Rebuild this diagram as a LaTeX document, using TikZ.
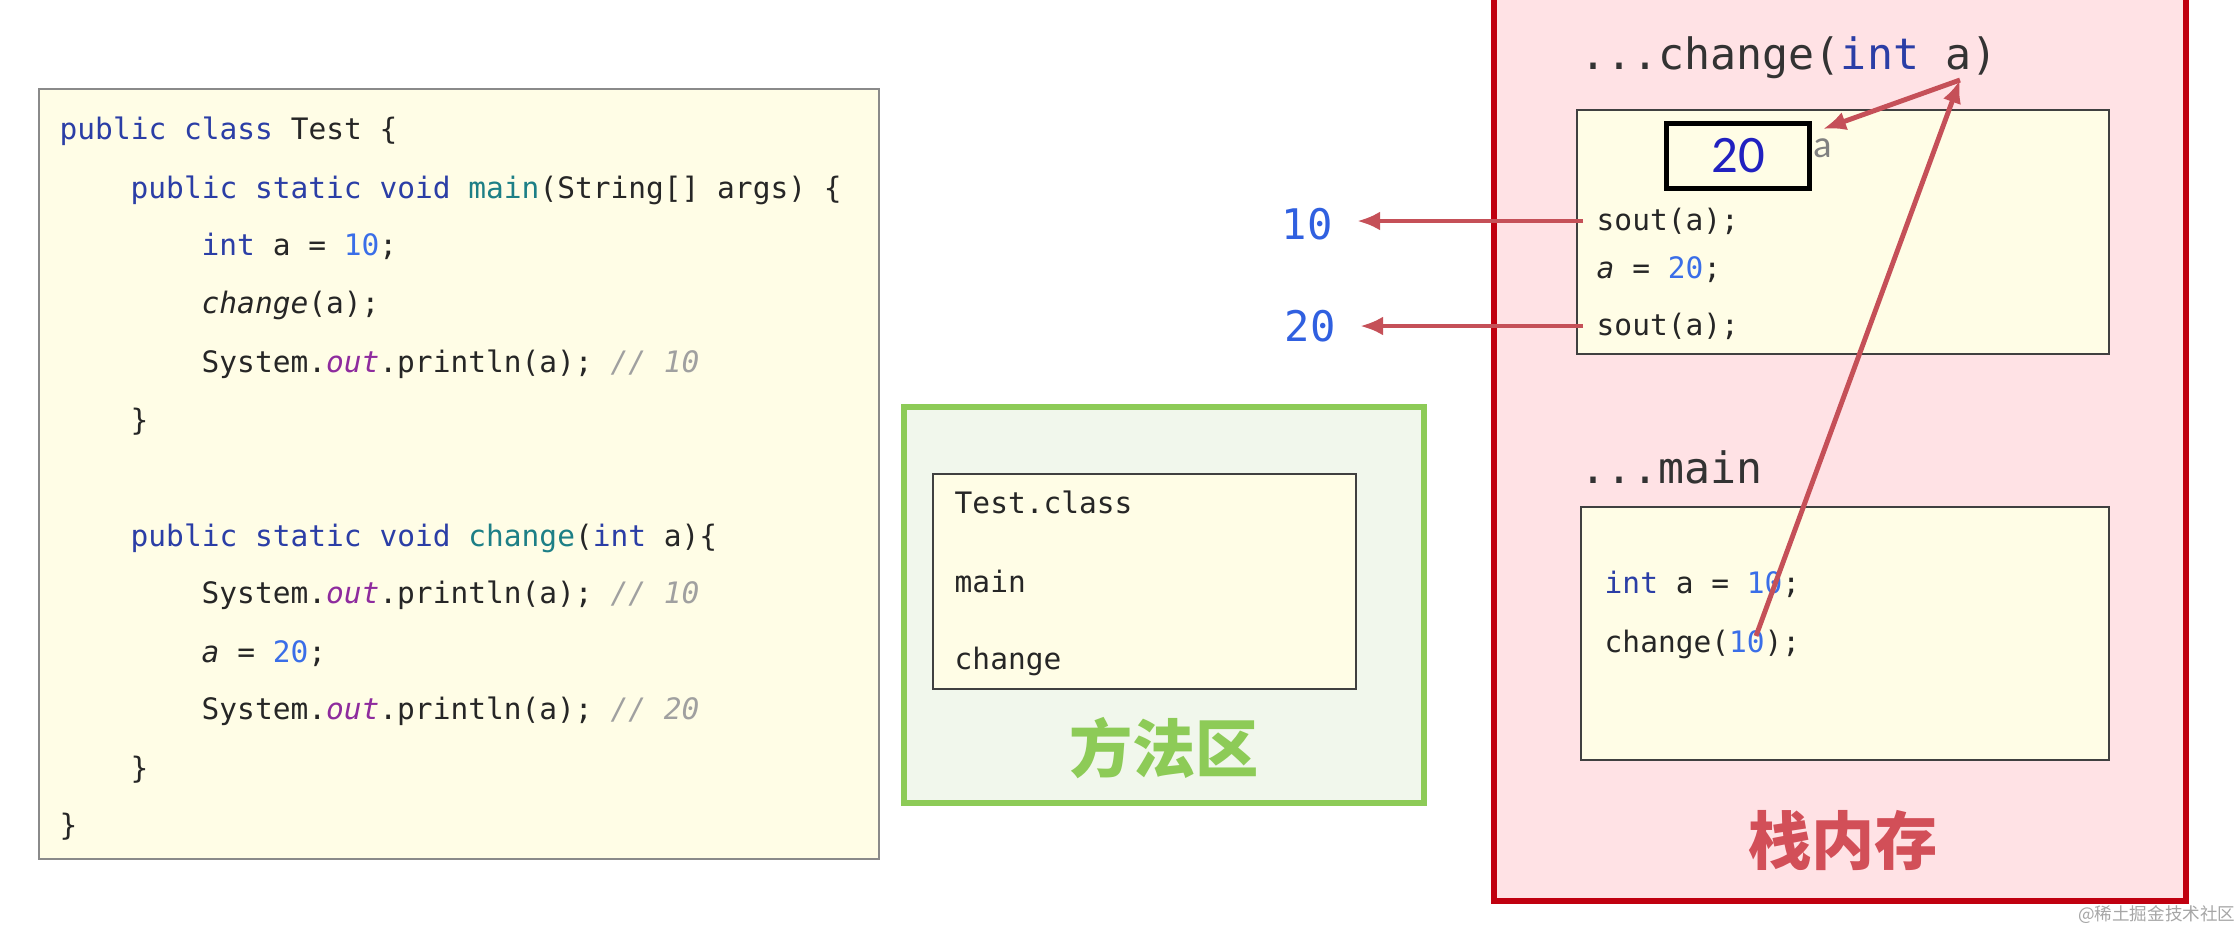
\documentclass[tikz,border=0pt]{standalone}
\usepackage{fontspec}
\usepackage{tikz}
\usetikzlibrary{arrows.meta}
\setmainfont{DejaVu Sans}
\setmonofont{DejaVu Sans Mono}
\newfontfamily\cjk{Noto Sans CJK SC}
\newfontfamily\numfont{Carlito}
\definecolor{codebg}{HTML}{FFFDE6}
\definecolor{codeframe}{HTML}{8A8A8A}
\definecolor{kwblue}{HTML}{2B3EA6}
\definecolor{fnteal}{HTML}{1D7F86}
\definecolor{numblue}{HTML}{3A6EE8}
\definecolor{fieldpurple}{HTML}{8E2B9E}
\definecolor{cmtgray}{HTML}{A0A0A0}
\definecolor{methgreen}{HTML}{8DCB57}
\definecolor{methbg}{HTML}{F1F7EC}
\definecolor{stackred}{HTML}{C00010}
\definecolor{stackbg}{HTML}{FFE2E5}
\definecolor{labelred}{HTML}{D24F58}
\definecolor{arrowred}{HTML}{C55058}
\definecolor{valblue}{HTML}{2121C0}
\definecolor{outblue}{HTML}{3060E0}
\newcommand{\jkw}[1]{\textcolor{kwblue}{#1}}
\newcommand{\jfn}[1]{\textcolor{fnteal}{#1}}
\newcommand{\jnum}[1]{\textcolor{numblue}{#1}}
\newcommand{\jfield}[1]{\textcolor{fieldpurple}{\textit{#1}}}
\newcommand{\jcmt}[1]{\textcolor{cmtgray}{\textit{#1}}}

\begin{document}
\begin{tikzpicture}[x=0.1mm, y=-0.1mm,
            code/.style={anchor=west, inner sep=0pt, text height=0.75em, text depth=0.2em,
              text=black!85, font=\ttfamily\fontsize{8.4}{10}\selectfont},
            header/.style={anchor=west, inner sep=0pt, text height=0.75em, text depth=0.2em,
              text=black!80, font=\ttfamily\fontsize{12.3}{14}\selectfont},
            outnum/.style={inner sep=0pt, text=outblue, font=\ttfamily\fontsize{12}{14}\selectfont},
            areabox/.style={line width=1.7pt},
            frame/.style={draw=black!75, line width=0.6pt, fill=codebg},
            valbox/.style={draw=black, line width=1.2pt, fill=codebg, minimum width=14.3mm,
              minimum height=6.5mm, inner sep=0pt, text=valblue, font=\numfont\fontsize{15}{16}\selectfont},
            cjklabel/.style={inner sep=0pt, font=\cjk\bfseries\fontsize{18}{20}\selectfont},
            redarrow/.style={draw=arrowred, line width=1.4pt, -{Latex[length=2.3mm,width=1.9mm]}}]
            \useasboundingbox (0,0) rectangle (2240,934);
            \clip (0,0) rectangle (2240,934);
            \fill[white] (0,0) rectangle (2240,934);
            \draw[fill=codebg, draw=codeframe, line width=0.6pt] (39,89) rectangle (879,859);
            \node[code] (l1) at (59,130) {\jkw{public class} Test \{};
            \node[code] (l2) at (130,189) {\jkw{public static void} \jfn{main}(String[] args) \{};
            \node[code] (l3) at (201,246) {\jkw{int} a = \jnum{10};};
            \node[code] (l4) at (201,304) {\textit{change}(a);};
            \node[code] (l5) at (201,363) {System.\jfield{out}.println(a); \jcmt{// 10}};
            \node[code] (l6) at (130,421) {\}};
            \node[code] (l7) at (130,537) {\jkw{public static void} \jfn{change}(\jkw{int} a)\{};
            \node[code] (l8) at (201,594) {System.\jfield{out}.println(a); \jcmt{// 10}};
            \node[code] (l9) at (201,653) {\textit{a} = \jnum{20};};
            \node[code] (l10) at (201,710) {System.\jfield{out}.println(a); \jcmt{// 20}};
            \node[code] (l11) at (130,769) {\}};
            \node[code] (l12) at (59,826) {\}};
            \draw[areabox, draw=methgreen, fill=methbg] (904,407) rectangle (1424,803);
            \draw[frame] (933,474) rectangle (1356,689);
            \node[code] (tc) at (954,504) {Test.class};
            \node[code] (mm) at (954,583) {main};
            \node[code] (mc) at (954,660) {change};
            \node[cjklabel, text=methgreen] (fq) at (1164,748) {方法区};
            \draw[areabox, draw=stackred, fill=stackbg] (1494,-20) rectangle (2186,901);
            \node[header] (hc) at (1580,60) {...change(\textcolor{kwblue}{int} a)};
            \draw[frame] (1577,110) rectangle (2109,354);
            \node[valbox] (val) at (1738,156) {20};
            \node[anchor=west, inner sep=0pt, text=black!50, font=\numfont\fontsize{11}{13}\selectfont] (va) at (1813,148) {a};
            \node[code] (s1) at (1596,221) {sout(a);};
            \node[code] (s2) at (1596,269) {\textit{a} = \jnum{20};};
            \node[code] (s3) at (1596,326) {sout(a);};
            \node[header] (hm) at (1580,474) {...main};
            \draw[frame] (1581,507) rectangle (2109,760);
            \node[code] (m1) at (1604,584) {\jkw{int} a = \jnum{10};};
            \node[code] (m2) at (1604,643) {change(\jnum{10});};
            \node[cjklabel, text=labelred] (zn) at (1843,840) {栈内存};
            \node[outnum] (o10) at (1307,224) {10};
            \node[outnum] (o20) at (1310,326) {20};
            \coordinate (arg) at (1756,636);
            \coordinate (parm) at (1960,80);
            \coordinate (vtip) at (1823,129);
            \draw[redarrow, shorten >=2.4mm] ([xshift=-1.3mm]s1.west) -- (s1.west -| o10.east);
            \draw[redarrow, shorten >=2.4mm] ([xshift=-1.3mm]s3.west) -- (s3.west -| o20.east);
            \draw[redarrow] (arg) -- (parm);
            \draw[redarrow] (parm) -- (vtip);
            \node[anchor=east, inner sep=0pt, text=black!35, font=\cjk\fontsize{5}{6}\selectfont] (wm) at (2236,915) {@稀土掘金技术社区};
          \end{tikzpicture}
\end{document}
